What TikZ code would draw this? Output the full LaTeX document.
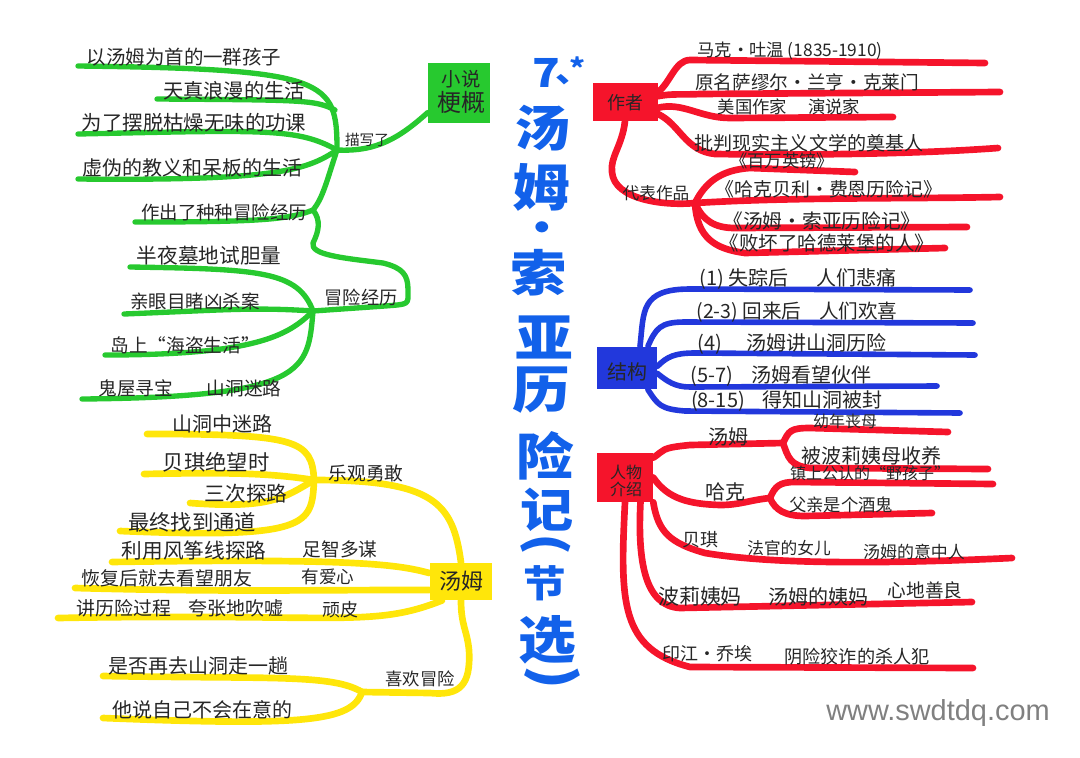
\documentclass[tikz,border=0pt]{standalone}
\usepackage{fontspec}
\setmainfont{Noto Sans CJK SC}
\newfontfamily\webfont{Liberation Sans}
\newfontfamily\titlefont[FakeStretch=1.14]{Noto Sans CJK SC}
\definecolor{mapgreen}{HTML}{27C92F}
\definecolor{mapred}{HTML}{F5142B}
\definecolor{mapblue}{HTML}{2238DC}
\definecolor{mapyellow}{HTML}{FFE60A}
\definecolor{maptitle}{HTML}{1261EA}
\tikzset{
  lbl/.style={font=\fontsize{#1}{#1}\selectfont, text=black!85, inner sep=0pt},
  titlechar/.style={font=\titlefont\fontsize{#1}{#1}\selectfont\bfseries, text=maptitle, inner sep=0pt},
  greenline/.style={draw=mapgreen, line width=4pt, line cap=round, line join=round},
  redline/.style={draw=mapred, line width=5pt, line cap=round, line join=round},
  blueline/.style={draw=mapblue, line width=4.2pt, line cap=round, line join=round},
  yellowline/.style={draw=mapyellow, line width=5pt, line cap=round, line join=round},
  headbox/.style={fill=#1, inner sep=0pt}
}
\begin{document}
\begin{tikzpicture}[x=0.75pt,y=-0.75pt]
\useasboundingbox (0,0) rectangle (1080,757);

% head boxes
\node[headbox=mapgreen, minimum width=46.5pt, minimum height=45pt] (novelbox) at (459,93) {};
\node[headbox=mapyellow, minimum width=47pt, minimum height=28pt] (tombox) at (461,581.5) {};
\node[headbox=mapred, minimum width=48.75pt, minimum height=28.5pt] (authorbox) at (625,102) {};
\node[headbox=mapblue, minimum width=45pt, minimum height=32pt] (structbox) at (627,368) {};
\node[headbox=mapred, minimum width=42pt, minimum height=36.75pt] (peoplebox) at (625,477.5) {};

% points the branches run through
\foreach \nm/\x/\y in {ga/78/66, gb/157/99, gc/78/134, gd/78/179, ge/135/222, gf/130/267, gg/124/314, gh/105/355, gi/82/399,
  gjoin/335/110, ghuba/337/150, ghubb/313/210, ghubc/313/311, gbenda/313/243, gbendb/383/263, gbendc/408/290, gbendd/385/306,
  ya/147/434, yb/144/474, yc/190/503, yd/120/531, ye/112/562, yf/75/588, yg/58/618, yh/103/676, yi/103/718,
  yhuba/314/480, yhubb/362/692, ybenda/469/650, ybendb/430/693,
  ra/985/63, rb/1000/92, rc/893/117, rd/998/148, re/855/172, rf/1000/197, rg/967/227, rh/945/248,
  rbenda/690/60, rbendb/700/94, rbendc/730/118, rbendd/715/154, rbende/612/172, rhub/695/203,
  rbendf/750/168, rbendg/735/228, rbendh/745/253,
  ba/970/290, bb/973/323, bc/975/355, bd/937/386, be/960/413,
  bbenda/690/289, bbendb/685/322, bbendc/695/353, bbendd/690/387, bbende/685/411,
  pa/948/432, pb/988/469, pc/993/484, pd/932/513, pe/1012/558, pf/972/602, pg/973/668,
  phuba/783/443, phubb/770/498, pbenda/690/445, pbendb/810/428, pbendc/810/468, pbendd/720/505,
  pbende/795/482, pbendf/805/516, pbendg/705/553, pbendh/680/608, pbendi/690/667}
\coordinate (\nm) at (\x,\y);

% green
\draw[greenline] (novelbox.212) .. controls +(-28,25) and +(40,2) .. (ghuba);
\draw[greenline] (ga) .. controls +(250,3) and +(0,-70) .. (ghuba);
\draw[greenline] (gb) .. controls +(150,1) and +(-20,-10) .. (gjoin);
\draw[greenline] (gc) .. controls +(190,-4) and +(-40,-22) .. (ghuba);
\draw[greenline] (gd) .. controls +(200,2) and +(-30,20) .. (ghuba);
\draw[greenline] (ge) .. controls +(120,0) and +(-25,10) .. (ghubb) .. controls +(10,-12) and +(-10,30) .. (ghuba);
\draw[greenline] (ghubb) .. controls +(8,10) and +(6,-12) .. (gbenda) .. controls +(-3,12) and +(-40,-5) .. (gbendb)
  .. controls +(20,5) and +(0,-15) .. (gbendc) .. controls +(0,15) and +(25,-2) .. (gbendd) -- (ghubc);
\draw[greenline] (gf) .. controls +(130,2) and +(-15,-40) .. (ghubc);
\draw[greenline] (gg) .. controls +(100,-4) and +(-60,-4) .. (ghubc);
\draw[greenline] (gh) .. controls +(150,0) and +(-25,25) .. (ghubc);
\draw[greenline] (gi) .. controls +(225,-2) and +(-5,60) .. (ghubc);

% yellow
\draw[yellowline] (ya) .. controls +(150,0) and +(-2,-40) .. (yhuba);
\draw[yellowline] (yb) .. controls +(100,-2) and +(-40,-6) .. (yhuba);
\draw[yellowline] (yc) .. controls +(80,6) and +(-30,18) .. (yhuba);
\draw[yellowline] (yd) .. controls +(190,8) and +(-2,45) .. (yhuba);
\draw[yellowline] (yhuba) .. controls +(120,0) and +(-8,-60) .. (tombox.north);
\draw[yellowline] (ye) .. controls +(250,-4) and +(-30,-8) .. (tombox.165);
\draw[yellowline] (yf) .. controls +(150,4) and +(-150,0) .. (tombox.195);
\draw[yellowline] (yg) .. controls +(280,-5) and +(-70,28) .. (tombox.225);
\draw[yellowline] (tombox.south) .. controls +(0,25) and +(-2,-20) .. (ybenda) .. controls +(2,35) and +(30,3) .. (ybendb) -- (yhubb);
\draw[yellowline] (yh) .. controls +(170,3) and +(-30,-18) .. (yhubb);
\draw[yellowline] (yi) .. controls +(200,8) and +(-10,30) .. (yhubb);

% red, author
\draw[redline] (authorbox.17) .. controls +(12,-8) and +(-15,0) .. (rbenda) -- (ra);
\draw[redline] (authorbox.10) .. controls +(15,-3) and +(-15,1) .. (rbendb) -- (rb);
\draw[redline] (authorbox.-10) .. controls +(25,-6) and +(-30,0) .. (rbendc) -- (rc);
\draw[redline] (authorbox.-20) .. controls +(22,10) and +(-30,-3) .. (rbendd) .. controls +(150,2) and +(-40,3) .. (rd);
\draw[redline] (authorbox.south) .. controls +(-3,25) and +(-2,-15) .. (rbende) .. controls +(2,28) and +(-30,3) .. (rhub);
\draw[redline] (rhub) .. controls +(10,-20) and +(-30,2) .. (rbendf) -- (re);
\draw[redline] (rhub) .. controls +(100,-6) and +(-100,2) .. (rf);
\draw[redline] (rhub) .. controls +(8,18) and +(-20,0) .. (rbendg) -- (rg);
\draw[redline] (rhub) .. controls +(2,35) and +(-30,-4) .. (rbendh) -- (rh);

% blue
\draw[blueline] (structbox.59) .. controls +(4,-35) and +(-50,0) .. (bbenda) -- (ba);
\draw[blueline] (structbox.46) .. controls +(8,-18) and +(-25,0) .. (bbendb) -- (bb);
\draw[blueline] (structbox.3) .. controls +(10,-10) and +(-20,0) .. (bbendc) -- (bc);
\draw[blueline] (structbox.-10) .. controls +(10,8) and +(-15,0) .. (bbendd) -- (bd);
\draw[blueline] (structbox.-46) .. controls +(10,15) and +(-25,-2) .. (bbende) -- (be);

% red, people
\draw[redline] (peoplebox.35) .. controls +(12,-8) and +(-30,3) .. (pbenda) -- (phuba);
\draw[redline] (phuba) .. controls +(6,-12) and +(-20,0) .. (pbendb) -- (pa);
\draw[redline] (phuba) .. controls +(5,14) and +(-20,-2) .. (pbendc) -- (pb);
\draw[redline] (peoplebox.east) .. controls +(15,22) and +(-30,-1) .. (pbendd) .. controls +(20,0) and +(-20,2) .. (phubb);
\draw[redline] (phubb) .. controls +(5,-12) and +(-15,0) .. (pbende) -- (pc);
\draw[redline] (phubb) .. controls +(5,12) and +(-20,0) .. (pbendf) -- (pd);
\draw[redline] (peoplebox.south east) .. controls +(5,30) and +(-35,-10) .. (pbendg) .. controls +(60,10) and +(-152,7) .. (pe);
\draw[redline] (peoplebox.-58) .. controls +(-3,60) and +(-35,-2) .. (pbendh) -- (pf);
\draw[redline] (peoplebox.south) .. controls +(-5,100) and +(-70,-18) .. (pbendi) -- (pg);

% labels
\foreach \nm/\x/\y/\fs/\txt in {
  lga/184/57/14.6/以汤姆为首的一群孩子, lgb/234/91/15.2/天真浪漫的生活, lgc/194/123/15.3/为了摆脱枯燥无味的功课,
  lgd/192/168/15/虚伪的教义和呆板的生活, lge/224/212/13.8/作出了种种冒险经历, lgf/209/256/15.5/半夜墓地试胆量,
  lgg/195/301/13.9/亲眼目睹凶杀案, lgh/185/345/14/岛上“海盗生活”, lgi/190/388/14/鬼屋寻宝\hspace{1.8em}山洞迷路,
  lgj/367/140/11/描写了, lgk/361/297/13.7/冒险经历,
  lya/222/424/15/山洞中迷路, lyb/216/462/16/贝琪绝望时, lyc/246/494/15.5/三次探路, lyd/192/522/16/最终找到通道,
  lye/194/551/15.5/利用风筝线探路, lyf/340/549/14/足智多谋, lyg/167/578/14.2/恢复后就去看望朋友, lyh/328/577/13.2/有爱心,
  lyi/180/608/14.2/讲历险过程\hspace{.9em}夸张地吹嘘, lyj/340/610/13.5/顽皮, lyk/366/473/14/乐观勇敢,
  lyl/198/666/15/是否再去山洞走一趟, lym/202/710/15/他说自己不会在意的, lyn/420/679/13/喜欢冒险, lyo/461/581/16.5/汤姆,
  lra/790/51/13/马克·吐温 (1835-1910), lrb/807/82/14/原名萨缪尔·兰亨·克莱门, lrc/789/107/13/美国作家\hspace{1.2em}演说家,
  lrd/809/143/14.3/批判现实主义文学的奠基人, lre/782/161/13/《百万英镑》, lrf/656/193/12.5/代表作品,
  lrg/829/189/14.2/《哈克贝利·费恩历险记》, lrh/822/221/14.8/《汤姆·索亚历险记》, lri/827/243/14.6/《败坏了哈德莱堡的人》,
  lrj/625/103/13.5/作者,
  lba/798/279/15/(1) 失踪后\hspace{1.4em}人们悲痛, lbb/797/312/14.7/(2-3) 回来后\hspace{.9em}人们欢喜, lbc/792/344/15/(4)\hspace{1.2em}汤姆讲山洞历险,
  lbd/781/376/15/(5-7)\hspace{.9em}汤姆看望伙伴, lbe/787/401/15/(8-15)\hspace{.9em}得知山洞被封, lbf/627/372/15/结构,
  lpa/728/437/15/汤姆, lpb/845/421/12/幼年丧母, lpc/871/456/15/被波莉姨母收养, lpd/870/473/12/镇上公认的“野孩子”,
  lpe/725/492/15/哈克, lpf/841/505/13/父亲是个酒鬼, lpg/700/540/13.5/贝琪, lph/789/548/12.5/法官的女儿, lpi/914/552/12.7/汤姆的意中人,
  lpj/700/597/15.7/波莉姨妈, lpk/818/597/15/汤姆的姨妈, lpl/925/590/14/心地善良, lpm/707/654/13.5/印江·乔埃, lpn/857/657/13.6/阴险狡诈的杀人犯}
\node[lbl=\fs] (\nm) at (\x,\y) {\txt};

\node[lbl=14.5, align=center] (novellabel) at (461,92) {小说\\[2pt]{\fontsize{18}{18}\selectfont 梗概}};
\node[lbl=12, align=center] (peoplelabel) at (626,481) {人物\\[1pt]介绍};

% title
\foreach \nm/\x/\y/\fs/\ch in {ta/543/128/37/汤, tb/541/187/38/姆, tc/542/232/30/·, td/539/273/37/索, te/544/337/38/亚,
  tf/541/390/38/历, tg/545/456/38/险, th/547/510/35/记, ti/545/583/28/节, tj/547/640/38/选}
\node[titlechar=\fs] (\nm) at (\x,\y) {\ch};
\node[titlechar=30] (tseven) at (546,73) {7};
\node[titlechar=24] (tcomma) at (574,80) {、};
\node[titlechar=20] (tstar) at (578,68) {*};
\node[titlechar=36, rotate=-90] (topen) at (546,544) {(};
\node[titlechar=40, rotate=-90] (tclose) at (552,678) {)};

\node[font=\webfont\fontsize{21.7}{22}\selectfont, text=black!50, inner sep=0pt] (weblabel) at (938,713) {www.swdtdq.com};
\end{tikzpicture}
\end{document}
